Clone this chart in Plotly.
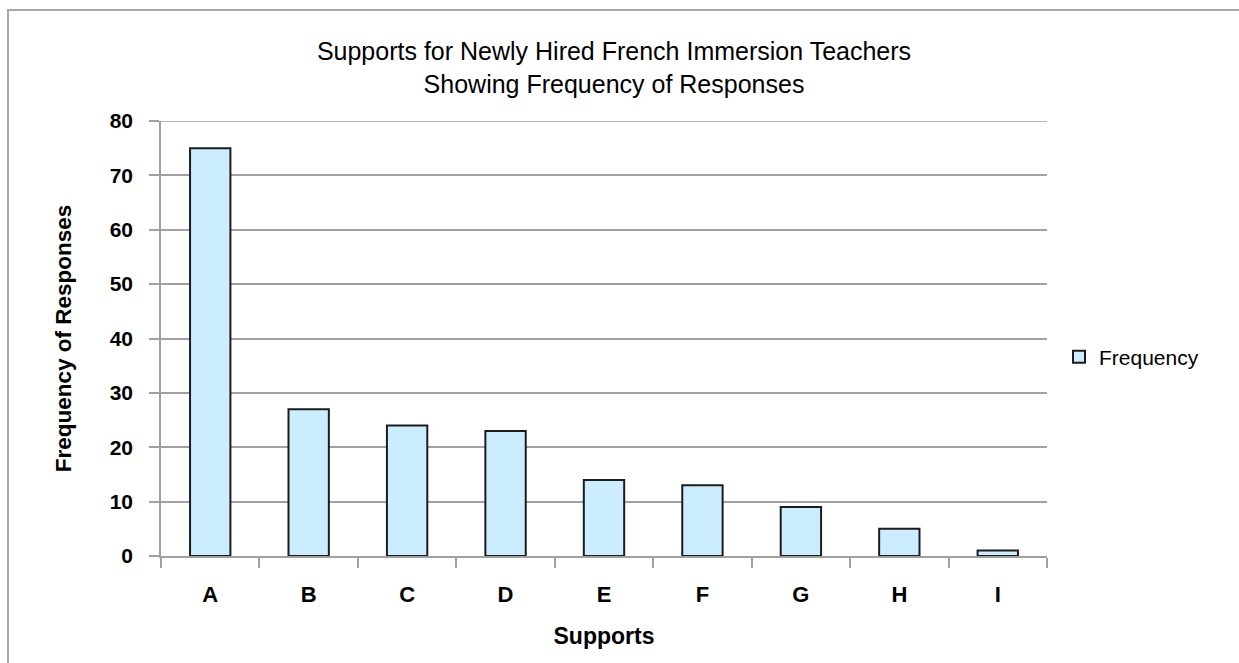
import plotly.graph_objects as go

# Survey tallies: supports offered to newly hired French immersion teachers
supports = ["A", "B", "C", "D", "E", "F", "G", "H", "I"]
frequency = [75, 27, 24, 23, 14, 13, 9, 5, 1]
y_ticks = [0, 10, 20, 30, 40, 50, 60, 70, 80]

W, H = 1239, 663
L, R, T, B = 161, 192, 121, 107
plot_w = W - L - R
plot_h = H - T - B

FONT = "Liberation Sans, Arial, sans-serif"
GRID = "#a0a0a0"

fig = go.Figure()
fig.add_trace(go.Bar(
    x=supports,
    y=frequency,
    name="Frequency",
    marker=dict(color="#CCECFF", line=dict(color="#1c1c1c", width=2)),
    showlegend=True,
))

# outer chart frame (runs off the right and bottom edges of the page)
fig.add_shape(
    type="rect", xref="paper", yref="paper",
    x0=(8 - L) / plot_w, x1=1.6,
    y0=-0.6, y1=(H - B - 10) / plot_h,
    line=dict(color="#a8a8a8", width=2), fillcolor="rgba(0,0,0,0)",
    layer="below",
)

# gridline on the top tick, which sits on the edge of the plot area
fig.add_shape(
    type="line", xref="paper", yref="y",
    x0=0, x1=1, y0=y_ticks[-1], y1=y_ticks[-1],
    line=dict(color=GRID, width=1.5),
    layer="below",
)

fig.update_layout(
    width=W, height=H,
    margin=dict(l=L, r=R, t=T, b=B, pad=0),
    paper_bgcolor="white", plot_bgcolor="white",
    bargap=0.59,
    font=dict(family=FONT, color="black"),
    title=dict(
        text="Supports for Newly Hired French Immersion Teachers<br>Showing Frequency of Responses",
        font=dict(family=FONT, size=25, color="black"),
        x=(614 - L) / plot_w, xref="paper", xanchor="center",
        y=1 - 60 / H, yref="container", yanchor="middle",
    ),
    xaxis=dict(
        type="category",
        tickson="boundaries",
        ticks="outside", ticklen=10, tickwidth=1.5, tickcolor=GRID,
        showline=True, linecolor=GRID, linewidth=1.5,
        showgrid=False,
        tickfont=dict(family=FONT, size=22, color="black", weight="bold"),
        ticklabelstandoff=18,
        title=dict(text="<b>Supports</b>", font=dict(family=FONT, size=23, color="black"), standoff=22),
    ),
    yaxis=dict(
        range=[0, 80],
        tickvals=y_ticks,
        ticks="outside", ticklen=10, tickwidth=1.5, tickcolor=GRID,
        showline=True, linecolor=GRID, linewidth=1.5,
        showgrid=True, gridcolor=GRID, gridwidth=1.5,
        zeroline=False,
        tickfont=dict(family=FONT, size=21, color="black", weight="bold"),
        ticklabelstandoff=12,
        title=dict(text="<b>Frequency of Responses</b>", font=dict(family=FONT, size=22.5, color="black"), standoff=32),
    ),
    legend=dict(
        x=(1059 - L) / plot_w, xanchor="left",
        y=(H - B - 357) / plot_h, yanchor="middle",
        font=dict(family=FONT, size=21, color="black"),
        bgcolor="rgba(0,0,0,0)",
        itemwidth=30,
    ),
)

fig.write_html("out.html")
